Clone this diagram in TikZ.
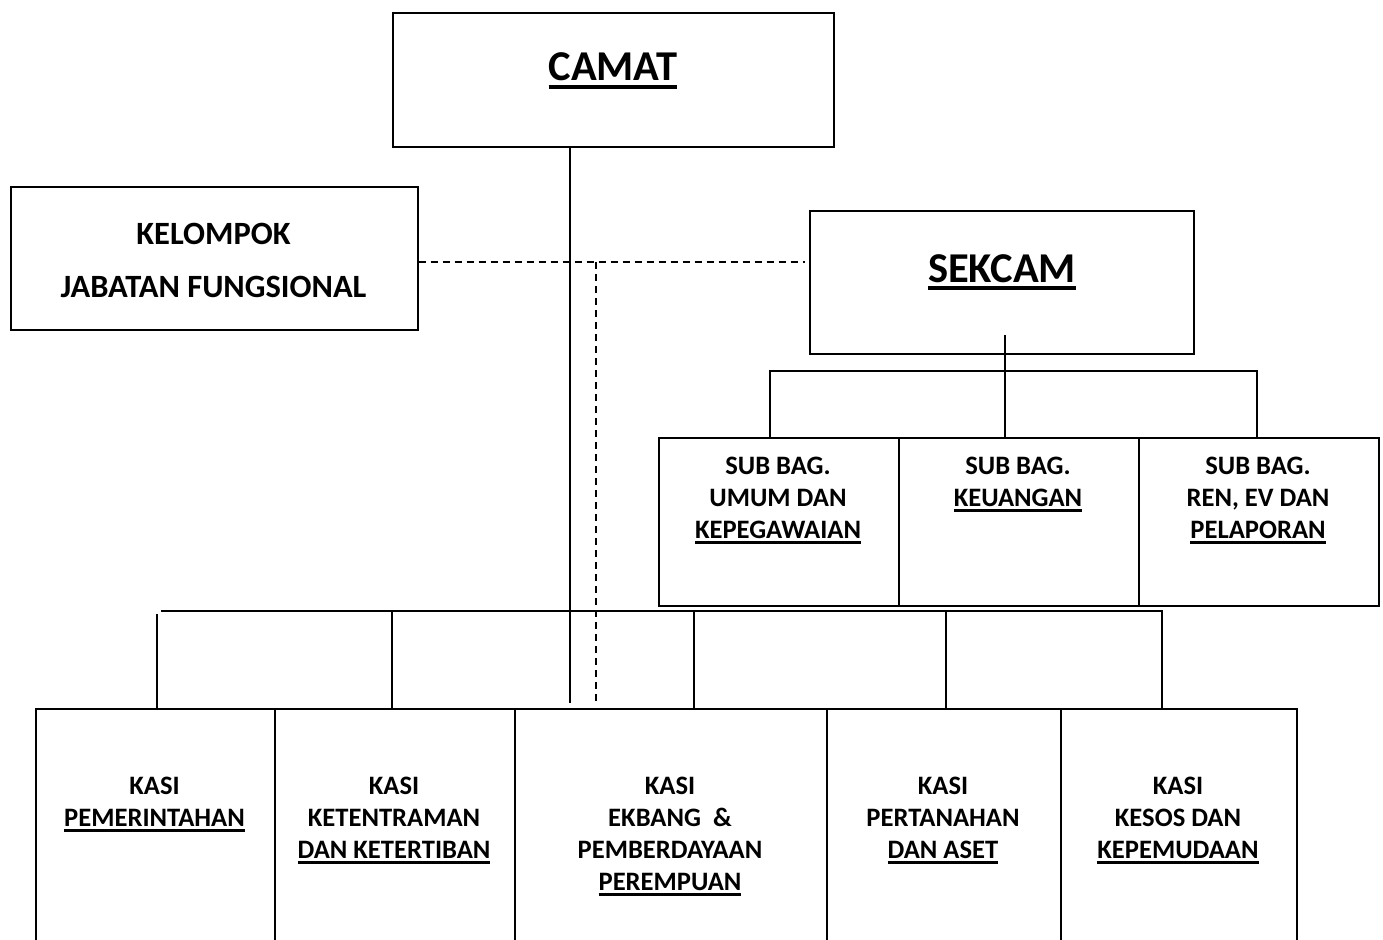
\documentclass[tikz,border=0pt]{standalone}
\usepackage{fontspec}
\setmainfont{Carlito}
\newcommand{\ulin}[1]{\leavevmode\setbox0=\hbox{#1}\rlap{\rule[-0.19em]{\wd0}{0.1em}}\box0}
\begin{document}
\begin{tikzpicture}[x=1pt,y=-1pt,
  box/.style={draw,line width=1.6pt,rectangle,inner sep=0pt,anchor=north west},
  lbl/.style={inner sep=0pt,align=center,anchor=north,font=\bfseries\fontsize{26.6}{32}\selectfont},
  big/.style={inner sep=0pt,anchor=base,font=\bfseries\fontsize{42.5}{50}\selectfont},
  conn/.style={line width=1.6pt},
  dline/.style={line width=1.4pt,dash pattern=on 7pt off 5pt}]
\useasboundingbox (0,0) rectangle (1383,939);
\clip (0,0) rectangle (1383,939);
% top boxes
\node[box,minimum width=441,minimum height=134] (camat) at (392,12) {};
\node[big] (tcamat) at (613,81) {\ulin{CAMAT}};
\node[box,minimum width=407,minimum height=143] (kjf) at (10,186) {};
\node[lbl,font=\bfseries\fontsize{32.5}{53}\selectfont] (tkjf) at (213.5,223) {KELOMPOK\\JABATAN FUNGSIONAL};
\node[box,minimum width=384,minimum height=143] (sekcam) at (809,210) {};
\node[big] (tsekcam) at (1002,282) {\ulin{SEKCAM}};
% sub bag boxes
\node[box,minimum width=240,minimum height=168] (sub1) at (658,437) {};
\node[box,minimum width=240,minimum height=168] (sub2) at (898,437) {};
\node[box,minimum width=240,minimum height=168] (sub3) at (1138,437) {};
\node[lbl] (tsub1) at (778,457) {SUB BAG.\\UMUM DAN\\\ulin{KEPEGAWAIAN}};
\node[lbl] (tsub2) at (1018,457) {SUB BAG.\\\ulin{KEUANGAN}};
\node[lbl] (tsub3) at (1258,457) {SUB BAG.\\REN, EV DAN\\\ulin{PELAPORAN}};
% kasi boxes
\node[box,minimum width=239,minimum height=260] (kasi1) at (35,708) {};
\node[box,minimum width=240,minimum height=260] (kasi2) at (274,708) {};
\node[box,minimum width=312,minimum height=260] (kasi3) at (514,708) {};
\node[box,minimum width=234,minimum height=260] (kasi4) at (826,708) {};
\node[box,minimum width=236,minimum height=260] (kasi5) at (1060,708) {};
\node[lbl] (tkasi1) at (154.5,777) {KASI\\\ulin{PEMERINTAHAN}};
\node[lbl] (tkasi2) at (394,777) {KASI\\KETENTRAMAN\\\ulin{DAN KETERTIBAN}};
\node[lbl] (tkasi3) at (670,777) {KASI\\EKBANG\ \ \&\\PEMBERDAYAAN\\\ulin{PEREMPUAN}};
\node[lbl] (tkasi4) at (943,777) {KASI\\PERTANAHAN\\\ulin{DAN ASET}};
\node[lbl] (tkasi5) at (1178,777) {KASI\\KESOS DAN\\\ulin{KEPEMUDAAN}};
% coordinates
\coordinate (jc) at (570,703);
\coordinate (dA) at (418,262);
\coordinate (dB) at (805,262);
\coordinate (dC) at (596,262);
\coordinate (dD) at (596,703);
\coordinate (s0) at (1005,335);
\coordinate (b1) at (770,371);
\coordinate (b3) at (1257,371);
\coordinate (k0) at (161,611);
\coordinate (kE) at (1162,611);
\coordinate (k1) at (157,614);
\coordinate (k2) at (392,611);
\coordinate (k3) at (694,611);
\coordinate (k4) at (946,611);
% connectors
\draw[conn] (camat.south -| jc) -- (jc);
\draw[dline] (kjf.east |- dA) -- (dB);
\draw[dline] (dC) -- (dD);
\draw[conn] (s0) -- (s0 |- sub2.north);
\draw[conn] (b1 |- sub1.north) -- (b1) -- (b3) -- (b3 |- sub3.north);
\draw[conn] (k0) -- (kE) -- (kE |- kasi5.north);
\draw[conn] (k1) -- (k1 |- kasi1.north);
\draw[conn] (k2) -- (k2 |- kasi2.north);
\draw[conn] (k3) -- (k3 |- kasi3.north);
\draw[conn] (k4) -- (k4 |- kasi4.north);
\end{tikzpicture}
\end{document}
